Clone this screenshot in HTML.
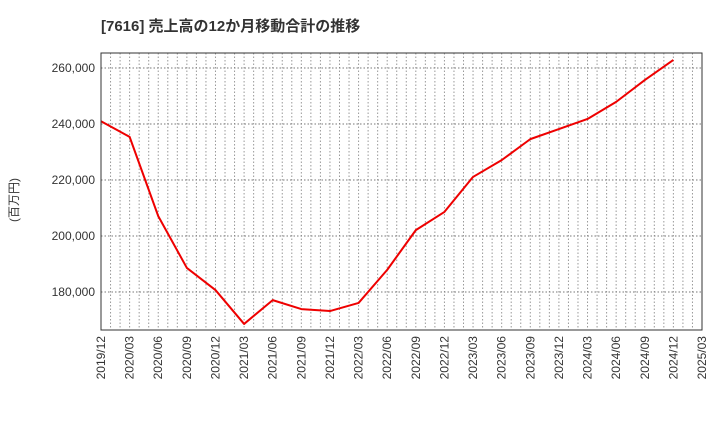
<!DOCTYPE html>
<html><head><meta charset="utf-8"><style>
body{margin:0;background:#fff;width:720px;height:440px;overflow:hidden}
svg text{font-family:"Liberation Sans","Noto Sans CJK JP",sans-serif}
</style></head><body>
<svg id="c" width="720" height="440" xmlns="http://www.w3.org/2000/svg">
<text x="101" y="31" font-size="15" font-weight="bold" fill="#333">[7616]  売上高の12か月移動合計の推移</text>
<text transform="translate(18,200) rotate(-90)" font-size="12" fill="#333" text-anchor="middle">(百万円)</text>
<g id="grid"></g><g id="axes"></g><g id="series"></g>
<rect x="101" y="53" width="601" height="277" fill="none" stroke="#333" stroke-width="1"/>
</svg>
<script>
const xLabels=["2019/12","2020/03","2020/06","2020/09","2020/12","2021/03","2021/06","2021/09","2021/12","2022/03","2022/06","2022/09","2022/12","2023/03","2023/06","2023/09","2023/12","2024/03","2024/06","2024/09","2024/12","2025/03"];
const values=[241000,235400,207100,188600,180700,168600,177100,173900,173200,176100,187900,202100,208600,221100,227100,234600,238200,241800,247900,255700,262900];
const yTicks=[180000,200000,220000,240000,260000];
const X0=101,X1=702,Y0=53,Y1=330,VMIN=166430,VMAX=265360;
const xs=i=>X0+i*(X1-X0)/21;
const ys=v=>Y1-(v-VMIN)/(VMAX-VMIN)*(Y1-Y0);
const NS="http://www.w3.org/2000/svg";
const g=document.getElementById('grid'),a=document.getElementById('axes'),s=document.getElementById('series');
function mk(t,at,p){const e=document.createElementNS(NS,t);for(const k in at)e.setAttribute(k,at[k]);p.appendChild(e);return e;}
for(let m=1;m<63;m++){const x=X0+m*(X1-X0)/63;
const l=mk('line',{x1:x,x2:x,y1:Y0,y2:Y1,stroke:'#999','stroke-dasharray':'1.5,2','stroke-width':1},g);

}
yTicks.forEach(v=>{const y=ys(v);
const l=mk('line',{x1:X0,x2:X1,y1:y,y2:y,stroke:'#777','stroke-dasharray':'1.5,2','stroke-width':1},g);


const t=mk('text',{x:X0-6,y:y+4,'font-size':12,'text-anchor':'end',fill:'#333'},a);t.textContent=v.toLocaleString('en-US');

});
xLabels.forEach((lb,i)=>{const x=xs(i);
const t=mk('text',{transform:`translate(${x+4},${Y1+6}) rotate(-90)`,'font-size':12,'text-anchor':'end',fill:'#333'},a);t.textContent=lb;

});
const p=mk('polyline',{points:values.map((v,i)=>xs(i)+','+ys(v)).join(' '),fill:'none',stroke:'#ee0000','stroke-width':2,'stroke-linejoin':'round'},s);


</script>
</body></html>
